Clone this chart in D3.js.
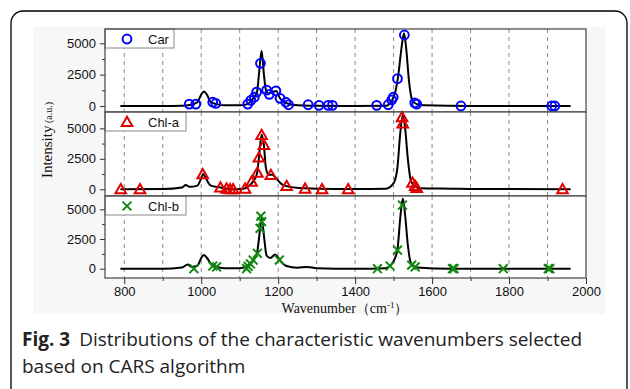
<!DOCTYPE html>
<html>
<head>
    <meta charset="utf-8">
    <style>
        body{
            margin: 0;
            background-color: white;
        }
        .tick-label{
            font-family: "Liberation Sans", Arial, sans-serif;
            font-size: 13px;
            fill: #111;
        }
        .serif{
            font-family: "Liberation Serif", "Times New Roman", serif;
            fill: #111;
        }
        .caption{
            font-family: "Open Sans", "Noto Sans", sans-serif;
            font-size: 19px;
            fill: #222;
        }
        .spectrum{
            fill: none;
            stroke: black;
            stroke-width: 2px;
        }
    </style>
</head>
<body>
    <svg class="vis"></svg>

    <script src="https://cdnjs.cloudflare.com/ajax/libs/d3/7.8.5/d3.min.js"></script>

    <script>

        var width = 630;
        var height = 389;

        // spectra [wavenumber, intensity]
        var carSpectrum = [[790,0],[900,0],[950,20],[970,80],[990,300],[1000,900],[1007,1150],[1015,900],[1025,300],
            [1040,150],[1060,50],[1100,50],[1120,150],[1135,600],[1145,1100],[1150,2500],[1157,4400],[1163,2500],
            [1168,1300],[1175,1000],[1185,1100],[1195,1200],[1205,600],[1220,250],[1240,80],[1300,20],[1400,0],
            [1480,20],[1495,400],[1505,1200],[1512,2400],[1520,4500],[1527,5800],[1533,4500],[1540,2000],[1548,500],
            [1560,150],[1580,50],[1700,0],[1960,0]];
        var chlaSpectrum = [[790,0],[900,20],[950,150],[960,350],[970,200],[990,300],[1000,900],[1005,1250],[1012,900],
            [1025,300],[1050,150],[1080,0],[1110,50],[1125,300],[1135,650],[1145,1300],[1150,2600],[1157,4500],
            [1163,3600],[1168,1800],[1175,1200],[1185,1200],[1195,900],[1210,400],[1230,200],[1260,100],[1300,50],
            [1400,20],[1480,50],[1500,500],[1510,1800],[1517,4500],[1524,6100],[1530,5000],[1537,2500],[1545,700],
            [1555,250],[1570,80],[1650,50],[1700,30],[1960,0]];
        var chlbSpectrum = [[790,0],[900,0],[950,100],[965,350],[975,150],[990,250],[1000,900],[1007,1150],[1015,900],
            [1030,250],[1060,50],[1100,50],[1120,250],[1135,700],[1145,1300],[1150,2500],[1157,4300],[1164,2500],
            [1170,1100],[1180,900],[1192,1200],[1205,700],[1220,250],[1250,80],[1275,150],[1300,50],[1400,0],
            [1480,50],[1495,400],[1505,1000],[1510,1600],[1518,4500],[1524,5900],[1530,4500],[1537,2000],[1545,500],
            [1560,100],[1650,0],[1960,0]];

        // selected wavenumbers [wavenumber, intensity]
        var carSelected = [[969,150],[986,150],[1030,300],[1038,200],[1121,150],[1129,450],[1138,700],[1144,1100],
            [1154,3400],[1170,1270],[1177,930],[1194,1200],[1205,610],[1220,300],[1227,100],[1278,100],[1306,50],
            [1330,50],[1341,50],[1456,50],[1486,100],[1495,480],[1499,700],[1510,2180],[1528,5660],[1555,250],
            [1560,150],[1675,0],[1911,0],[1919,0]];
        var chlaSelected = [[791,0],[841,0],[1004,1230],[1050,150],[1066,50],[1075,0],[1083,0],[1114,50],[1131,620],
            [1146,1360],[1150,2600],[1157,4450],[1163,3630],[1181,1170],[1222,270],[1270,50],[1314,0],[1382,0],
            [1522,5900],[1524,5400],[1549,540],[1556,270],[1560,100],[1939,0]];
        var chlbSelected = [[981,0],[1030,230],[1040,150],[1118,0],[1122,200],[1128,400],[1135,730],[1146,1300],
            [1153,3400],[1155,4430],[1157,3960],[1203,730],[1458,0],[1491,230],[1510,1570],[1523,5360],[1547,300],
            [1556,150],[1653,0],[1657,0],[1785,0],[1902,0],[1906,0]];

        var seriesNames = ["Car", "Chl-a", "Chl-b"];
        var seriesColors = ["#0000ff", "#e00000", "#118811"];
        var yTicks = [0, 2500, 5000];
        var yMinorTicks = [1250, 3750];
        var xTicks = [800, 1000, 1200, 1400, 1600, 1800, 2000];
        var xMinorTicks = [900, 1100, 1300, 1500, 1700, 1900];
        var gridLines = d3.range(800, 2000, 100);

        // panel layout: top, bottom, y domain
        var panels = [
            {top: 29, bottom: 112, dom: [-480, 6140], spec: carSpectrum, sel: carSelected, legendW: 69},
            {top: 112, bottom: 196, dom: [-550, 6340], spec: chlaSpectrum, sel: chlaSelected, legendW: 81},
            {top: 196, bottom: 278, dom: [-780, 6120], spec: chlbSpectrum, sel: chlbSelected, legendW: 81}
        ];

        var plotLeft = 105, plotRight = 586;

        var vis = d3.select("svg.vis")
            .attr("width", width)
            .attr("height", height);

        // card frame
        vis.append("rect")
            .attr("x", 11).attr("y", 11)
            .attr("width", 616).attr("height", 420)
            .attr("rx", 12)
            .attr("fill", "white")
            .attr("stroke", "black")
            .attr("stroke-width", 1.3);

        // figure image background
        vis.append("rect")
            .attr("x", 33).attr("y", 27)
            .attr("width", 572).attr("height", 287)
            .attr("fill", "#f7f7f7");

        var x = d3.scaleLinear().domain([750, 2000]).range([plotLeft, plotRight]);

        function drawMarker(g, kind, px, py, color){
            if (kind === 0){
                g.append("circle")
                    .attr("cx", px).attr("cy", py).attr("r", 4.4)
                    .attr("fill", "none")
                    .attr("stroke", color)
                    .attr("stroke-width", 2);
            } else if (kind === 1){
                var s = 5.3;
                g.append("path")
                    .attr("d", "M" + px + "," + (py - s) + "L" + (px + s) + "," + (py + s * 0.75) +
                        "L" + (px - s) + "," + (py + s * 0.75) + "Z")
                    .attr("fill", "none")
                    .attr("stroke", color)
                    .attr("stroke-width", 2);
            } else {
                var c = 4.4;
                g.append("path")
                    .attr("d", "M" + (px - c) + "," + (py - c) + "L" + (px + c) + "," + (py + c) +
                        "M" + (px + c) + "," + (py - c) + "L" + (px - c) + "," + (py + c))
                    .attr("fill", "none")
                    .attr("stroke", color)
                    .attr("stroke-width", 2);
            }
        }

        panels.forEach(function(p, i){
            var y = d3.scaleLinear().domain(p.dom).range([p.bottom, p.top]);
            var g = vis.append("g").attr("class", "panel");

            g.append("rect")
                .attr("x", plotLeft).attr("y", p.top)
                .attr("width", plotRight - plotLeft).attr("height", p.bottom - p.top)
                .attr("fill", "white");

            // dashed grid
            g.selectAll("line.grid")
                .data(gridLines)
                .enter().append("line")
                .attr("class", "grid")
                .attr("x1", d => x(d)).attr("x2", d => x(d))
                .attr("y1", p.top).attr("y2", p.bottom)
                .attr("stroke", "#8a8a8a")
                .attr("stroke-width", 1)
                .attr("stroke-dasharray", "4,4");

            // spectrum line
            var line = d3.line()
                .x(d => x(d[0]))
                .y(d => y(d[1]))
                .curve(d3.curveMonotoneX);

            g.append("path")
                .datum(p.spec)
                .attr("class", "spectrum")
                .attr("d", line);

            // selected markers
            p.sel.forEach(function(d){
                drawMarker(g, i, x(d[0]), y(d[1]), seriesColors[i]);
            });

            // y axis
            var yAxis = d3.axisLeft(y).tickValues(yTicks).tickSize(5).tickPadding(4).tickFormat(d3.format("d"));
            var ya = g.append("g").attr("transform", "translate(" + plotLeft + ",0)").call(yAxis);
            ya.select(".domain").remove();
            ya.selectAll("text").attr("class", "tick-label").attr("font-size", null).attr("font-family", null);
            ya.selectAll("line").attr("stroke", "#333");

            var yMinor = d3.axisLeft(y).tickValues(yMinorTicks).tickSize(3).tickFormat("");
            var ym = g.append("g").attr("transform", "translate(" + plotLeft + ",0)").call(yMinor);
            ym.select(".domain").remove();
            ym.selectAll("line").attr("stroke", "#333");

            // legend
            var lg = g.append("g");
            lg.append("rect")
                .attr("x", plotLeft).attr("y", p.top)
                .attr("width", p.legendW).attr("height", 19)
                .attr("fill", "white")
                .attr("stroke", "#888")
                .attr("stroke-width", 1);
            drawMarker(lg, i, 127, p.top + 10, seriesColors[i]);
            lg.append("text")
                .attr("x", 148).attr("y", p.top + 14.5)
                .attr("class", "tick-label")
                .text(seriesNames[i]);

            // panel frame
            g.append("rect")
                .attr("x", plotLeft).attr("y", p.top)
                .attr("width", plotRight - plotLeft).attr("height", p.bottom - p.top)
                .attr("fill", "none")
                .attr("stroke", "#444")
                .attr("stroke-width", 1.2);
        });

        // x axis
        var xAxis = d3.axisBottom(x).tickValues(xTicks).tickSize(6).tickPadding(3).tickFormat(d3.format("d"));
        var xa = vis.append("g").attr("transform", "translate(0,278)").call(xAxis);
        xa.select(".domain").remove();
        xa.selectAll("text").attr("class", "tick-label").attr("font-size", null).attr("font-family", null);
        xa.selectAll("line").attr("stroke", "#333");

        var xMinor = d3.axisBottom(x).tickValues(xMinorTicks).tickSize(3).tickFormat("");
        var xm = vis.append("g").attr("transform", "translate(0,278)").call(xMinor);
        xm.select(".domain").remove();
        xm.selectAll("line").attr("stroke", "#333");

        // axis titles
        var xt = vis.append("text")
            .attr("class", "serif")
            .attr("x", 345).attr("y", 313)
            .attr("text-anchor", "middle")
            .attr("font-size", "14px");
        xt.append("tspan").text("Wavenumber（cm");
        xt.append("tspan").attr("dy", "-5").attr("font-size", "9px").text("-1");
        xt.append("tspan").attr("dy", "5").text("）");

        var yt = vis.append("text")
            .attr("class", "serif")
            .attr("transform", "translate(52,140) rotate(-90)")
            .attr("text-anchor", "middle");
        yt.append("tspan").attr("font-size", "15px").text("Intensity");
        yt.append("tspan").attr("font-size", "10px").text(" (a.u.)");

        // caption
        var cap = vis.append("text")
            .attr("class", "caption")
            .attr("x", 22).attr("y", 346);
        cap.append("tspan").attr("font-weight", "bold").text("Fig. 3");
        cap.append("tspan").attr("dx", 9).text("Distributions of the characteristic wavenumbers selected");
        vis.append("text")
            .attr("class", "caption")
            .attr("x", 22).attr("y", 373)
            .text("based on CARS algorithm");

    </script>
</body>
</html>
